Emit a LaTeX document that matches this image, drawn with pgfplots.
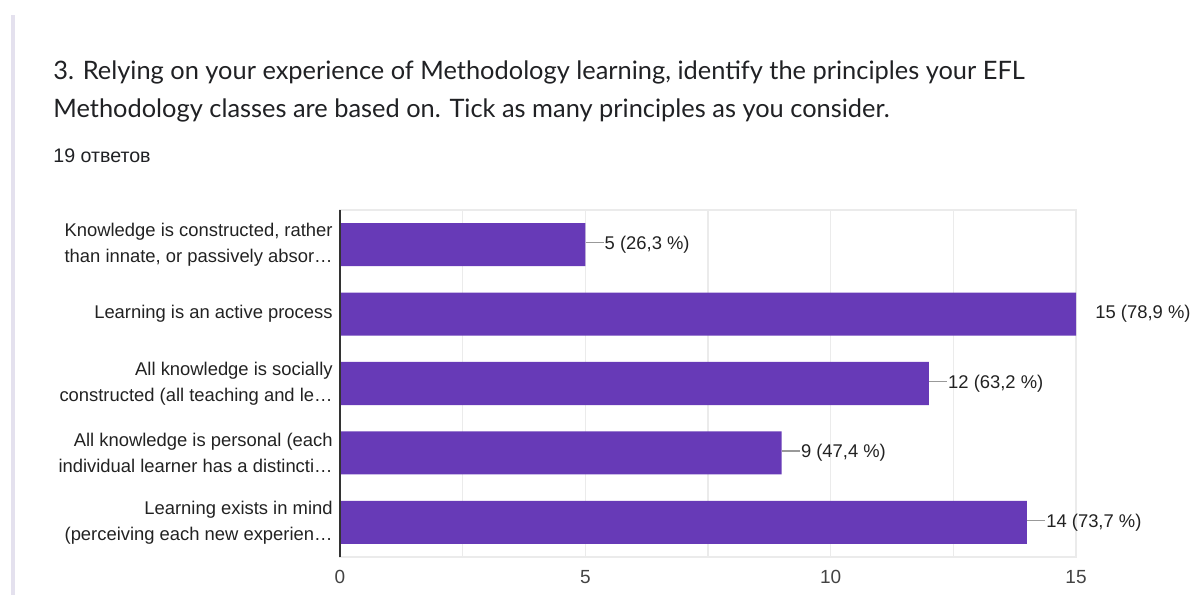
\documentclass[border=0pt]{standalone}
\usepackage{pgfplots}
\pgfplotsset{compat=1.18}
\usepackage{fontspec}
\setmainfont{Liberation Sans}
\newfontfamily\titlefont{Lato}
\definecolor{barpurple}{HTML}{673AB7}
\definecolor{gridgray}{HTML}{EBEBEB}
\definecolor{axisdark}{HTML}{333333}
\definecolor{titlecol}{HTML}{202124}
\definecolor{labelcol}{HTML}{222222}
\definecolor{leadgray}{HTML}{999999}
\definecolor{pageline}{HTML}{E4E1EE}
\newcommand\lead{\textcolor{leadgray}{\rule[3pt]{9pt}{0.6pt}}\hspace{0.5pt}}
\begin{document}
\begin{tikzpicture}
\useasboundingbox (0pt,0pt) rectangle (596.5pt,-297.5pt);
\fill[pageline] (5.5pt,-7.5pt) rectangle (7.5pt,-297.5pt);
\node[anchor=base west, inner sep=0pt, text=titlecol, font=\titlefont\fontsize{12.7pt}{14pt}\selectfont] at (26.5pt,-39.5pt) {3. Relying on your experience of Methodology learning, identify the principles your EFL};
\node[anchor=base west, inner sep=0pt, text=titlecol, font=\titlefont\fontsize{12.7pt}{14pt}\selectfont] at (26.5pt,-58.5pt) {Methodology classes are based on. Tick as many principles as you consider.};
\node[anchor=base west, inner sep=0pt, text=titlecol, font=\fontsize{9.8pt}{11pt}\selectfont] at (26.5pt,-81pt) {19 ответов};
\begin{axis}[
  at={(170pt,-278.5pt)}, anchor=south west,
  scale only axis, width=368pt, height=173.5pt,
  xbar, bar width=0.62,
  xmin=0, xmax=15, ymin=0.5, ymax=5.5,
  xtick={0,5,10,15}, minor xtick={2.5,7.5,12.5},
  xmajorgrids, xminorgrids,
  major grid style={gridgray, line width=0.6pt},
  minor grid style={gridgray, line width=0.6pt},
  major tick length=0pt, minor tick length=0pt,
  axis line style={gridgray, line width=0.6pt},
  ytick={1,2,3,4,5},
  yticklabels={{Learning exists in mind\\(perceiving each new experien…},
               {All knowledge is personal (each\\individual learner has a distincti…},
               {All knowledge is socially\\constructed (all teaching and le…},
               {Learning is an active process},
               {Knowledge is constructed, rather\\than innate, or passively absor…}},
  yticklabel style={align=right, font=\fontsize{9.2pt}{13pt}\selectfont, text=labelcol, inner sep=0pt, xshift=-3.5pt},
  xticklabel style={font=\fontsize{9.5pt}{11pt}\selectfont, text=labelcol!85, yshift=-3pt},
  /pgf/number format/assume math mode=true,
  point meta=explicit symbolic,
  nodes near coords,
  every node near coord/.append style={anchor=west, inner sep=0pt, font=\fontsize{9.2pt}{11pt}\selectfont, text=labelcol},
  clip=false,
]
\addplot[fill=barpurple, draw=none] coordinates {
  (14,1) [\lead 14 (73,7 \%)]
  (9,2)  [\lead 9 (47,4 \%)]
  (12,3) [\lead 12 (63,2 \%)]
  (15,4) [\hspace*{9.5pt}15 (78,9 \%)]
  (5,5)  [\lead 5 (26,3 \%)]
};
\draw[axisdark, line width=0.7pt] (axis cs:0,0.5) -- (axis cs:0,5.5);
\end{axis}
\end{tikzpicture}
\end{document}
